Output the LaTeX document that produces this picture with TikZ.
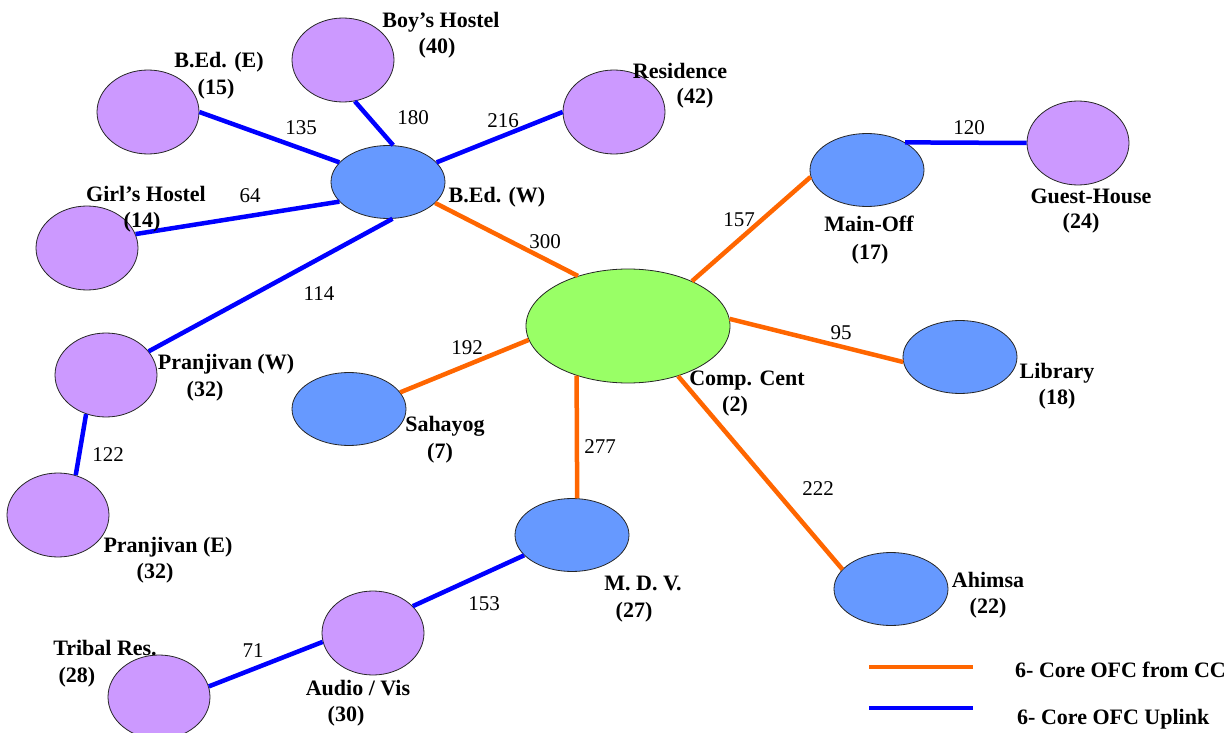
\documentclass[tikz,border=0pt]{standalone}
\usepackage{fontspec}
\setmainfont{Liberation Serif}
\usetikzlibrary{shapes.geometric}

\definecolor{lilac}{HTML}{CC99FF}
\definecolor{sky}{HTML}{6699FF}
\definecolor{lime}{HTML}{99FF66}
\definecolor{ofcorange}{HTML}{FF6600}

\tikzset{
  hostelnode/.style={ellipse, draw=black!85, line width=0.8pt, fill=lilac, inner sep=0pt, minimum width=102pt, minimum height=84pt},
  sitenode/.style={ellipse, draw=black!85, line width=0.8pt, fill=sky, inner sep=0pt, minimum width=114pt, minimum height=73pt},
  ccnode/.style={ellipse, draw=black!85, line width=0.8pt, fill=lime, inner sep=0pt, minimum width=204pt, minimum height=114pt},
  fromcc/.style={draw=ofcorange, line width=4.5pt},
  uplink/.style={draw=blue, line width=4.5pt},
  lbl/.style={font=\fontsize{22}{26}\selectfont\bfseries, inner sep=0pt, text height=15pt, text depth=1pt},
  dist/.style={font=\fontsize{21}{24}\selectfont, inner sep=0pt, text height=14pt, text depth=0pt}
}

\begin{document}
\begin{tikzpicture}[x=1pt, y=-1pt]
            \useasboundingbox (0,0) rectangle (1227,733);

            % buildings
            \node[hostelnode] (bede) at (148,112) {};
            \node[hostelnode] (boys) at (343,60) {};
            \node[hostelnode] (resi) at (614,112) {};
            \node[hostelnode] (girls) at (87,248) {};
            \node[hostelnode] (pranw) at (106,375) {};
            \node[hostelnode] (prane) at (58,515) {};
            \node[hostelnode] (guest) at (1078,143) {};
            \node[hostelnode] (audio) at (373,633) {};
            \node[hostelnode] (tribal) at (159,697) {};
            \node[sitenode] (bedw) at (388,182) {};
            \node[sitenode] (mainoff) at (867,170) {};
            \node[sitenode] (library) at (960,357) {};
            \node[sitenode] (sahayog) at (349,409) {};
            \node[sitenode] (mdv) at (572,535) {};
            \node[sitenode] (ahimsa) at (891,589) {};
            \node[ccnode] (cc) at (628,326) {};

            % fibre from CC
            \draw[fromcc] (cc.135) -- (bedw.336);
            \draw[fromcc] (cc.35) -- (mainoff.187);
            \draw[fromcc] (cc.4) -- (library.185);
            \draw[fromcc] (cc.188) -- (sahayog.18);
            \draw[fromcc] (cc.224) -- (mdv.82);
            \draw[fromcc] (cc.315) -- (ahimsa.158);

            % uplinks
            \draw[uplink] (bede.0) -- (bedw.158);
            \draw[uplink] (boys.286) -- (bedw.82);
            \draw[uplink] (resi.180) -- (bedw.22);
            \draw[uplink] (girls.16) -- (bedw.202);
            \draw[uplink] (pranw.29) -- (bedw.277);
            \draw[uplink] (pranw.243) -- (prane.66);
            \draw[uplink] (mainoff.36) -- (guest.180);
            \draw[uplink] (mdv.203) -- (audio.34);
            \draw[uplink] (audio.190) -- (tribal.12);

            % names
            \node[lbl] (tboys) at (441,21) {Boy’s Hostel};
            \node[lbl] (nboys) at (437,47) {(40)};
            \node[lbl] (tbede) at (219,61) {B.Ed. (E)};
            \node[lbl] (nbede) at (216,88) {(15)};
            \node[lbl] (tresi) at (680,72) {Residence};
            \node[lbl] (nresi) at (695,97) {(42)};
            \node[lbl] (tgirls) at (146,194) {Girl’s Hostel};
            \node[lbl] (ngirls) at (142,220) {(14)};
            \node[lbl] (tbedw) at (497,195) {B.Ed. (W)};
            \node[lbl] (tpranw) at (226,362) {Pranjivan (W)};
            \node[lbl] (npranw) at (205,389) {(32)};
            \node[lbl] (tsahayog) at (445,424) {Sahayog};
            \node[lbl] (nsahayog) at (440,451) {(7)};
            \node[lbl] (tprane) at (168,545) {Pranjivan (E)};
            \node[lbl] (nprane) at (155,571) {(32)};
            \node[lbl] (ttribal) at (105,648) {Tribal Res.};
            \node[lbl] (ntribal) at (77,675) {(28)};
            \node[lbl] (taudio) at (358,688) {Audio / Vis};
            \node[lbl] (naudio) at (346,714) {(30)};
            \node[lbl] (tmdv) at (643,583) {M. D. V.};
            \node[lbl] (nmdv) at (634,610) {(27)};
            \node[lbl] (tahimsa) at (988,580) {Ahimsa};
            \node[lbl] (nahimsa) at (988,606) {(22)};
            \node[lbl] (tcc) at (747,378) {Comp. Cent};
            \node[lbl] (ncc) at (735,404) {(2)};
            \node[lbl] (tlibrary) at (1057,371) {Library};
            \node[lbl] (nlibrary) at (1057,397) {(18)};
            \node[lbl] (tmainoff) at (869,225) {Main-Off};
            \node[lbl] (nmainoff) at (870,252) {(17)};
            \node[lbl] (tguest) at (1091,197) {Guest-House};
            \node[lbl] (nguest) at (1081,222) {(24)};

            % cable lengths
            \node[dist] (d180) at (413,118) {180};
            \node[dist] (d216) at (503,121) {216};
            \node[dist] (d135) at (301,128) {135};
            \node[dist] (d64) at (250,196) {64};
            \node[dist] (d300) at (545,241) {300};
            \node[dist] (d114) at (319,293) {114};
            \node[dist] (d157) at (739,219) {157};
            \node[dist] (d120) at (969,128) {120};
            \node[dist] (d95) at (841,332) {95};
            \node[dist] (d192) at (467,347) {192};
            \node[dist] (d277) at (600,446) {277};
            \node[dist] (d122) at (108,454) {122};
            \node[dist] (d222) at (818,488) {222};
            \node[dist] (d153) at (484,603) {153};
            \node[dist] (d71) at (253,650) {71};

            % legend
            \coordinate (ka) at (869,667);
            \coordinate (kb) at (973,667);
            \coordinate (kc) at (869,708);
            \coordinate (kd) at (973,708);
            \draw[fromcc] (ka) -- (kb);
            \draw[uplink] (kc) -- (kd);
            \node[lbl, anchor=west] (kfrom) at (1015,670) {6- Core OFC from CC};
            \node[lbl, anchor=west] (kup) at (1017,717) {6- Core OFC Uplink};
        \end{tikzpicture}
\end{document}
